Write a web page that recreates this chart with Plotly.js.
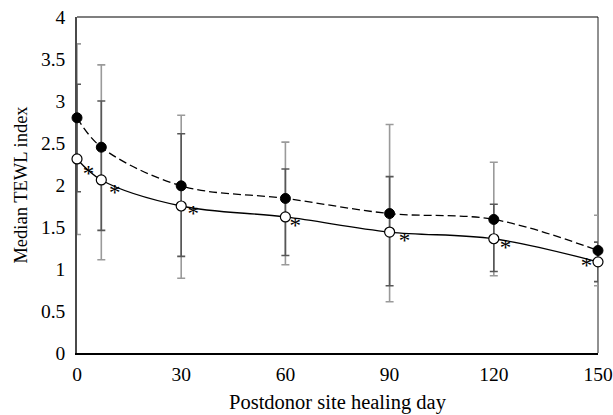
<!DOCTYPE html>
<html>
<head>
<meta charset="utf-8">
<script src="https://cdn.plot.ly/plotly-3.0.1.min.js"></script>
<style>html,body{margin:0;padding:0;background:#fff;}#chart{width:613px;height:415px;}</style>
</head>
<body>
<div id="chart"></div>
<script>
// Healing days
const days = [0, 7, 30, 60, 90, 120, 150];
// Median TEWL index, filled markers (dashed line)
const filledMedian = [2.80, 2.45, 1.99, 1.84, 1.66, 1.59, 1.22];
// Median TEWL index, open markers (solid line)
const openMedian = [2.31, 2.06, 1.75, 1.62, 1.44, 1.36, 1.085];
// Error-bar extents, light grey bars (filled series)
const filledUpper = [3.68, 3.43, 2.83, 2.51, 2.72, 2.27, 1.64];
const filledLower = [1.41, 1.11, 0.89, 1.05, 0.61, 0.92, 0.80];
// Error-bar extents, dark grey bars (open series)
const openUpper = [3.20, 3.00, 2.61, 2.19, 2.10, 1.77, 1.32];
const openLower = [1.92, 1.46, 1.15, 1.16, 0.80, 0.97, 0.85];
// Significance marks placed beside the open points
const starDays = [3.3, 10.9, 33.5, 62.8, 94.3, 123.4, 146.7];
const starValues = [2.12, 1.89, 1.64, 1.50, 1.32, 1.23, 1.02];
// Axis ticks
const xTicks = [0, 30, 60, 90, 120, 150];
const yTicks = [0, 0.5, 1, 1.5, 2, 2.5, 3, 3.5, 4];

const diff = (a, b) => a.map((v, i) => v - b[i]);
const font = "Liberation Serif, Times New Roman, serif";

const traces = [
  {
    x: days, y: filledMedian, type: 'scatter', mode: 'markers',
    marker: {size: 1, color: 'rgba(0,0,0,0)'},
    error_y: {type: 'data', symmetric: false,
      array: diff(filledUpper, filledMedian), arrayminus: diff(filledMedian, filledLower),
      color: '#9a9a9a', thickness: 1.6, width: 4},
    hoverinfo: 'skip', showlegend: false, cliponaxis: false
  },
  {
    x: days, y: openMedian, type: 'scatter', mode: 'markers',
    marker: {size: 1, color: 'rgba(0,0,0,0)'},
    error_y: {type: 'data', symmetric: false,
      array: diff(openUpper, openMedian), arrayminus: diff(openMedian, openLower),
      color: '#575757', thickness: 1.6, width: 4},
    hoverinfo: 'skip', showlegend: false, cliponaxis: false
  },
  {
    x: days, y: filledMedian, type: 'scatter', mode: 'lines+markers',
    line: {color: '#000', width: 1.3, dash: '8px,4px', shape: 'spline', smoothing: 1},
    marker: {symbol: 'circle', size: 10, color: '#000', line: {color: '#000', width: 1}},
    showlegend: false, cliponaxis: false
  },
  {
    x: days, y: openMedian, type: 'scatter', mode: 'lines+markers',
    line: {color: '#000', width: 1.3, shape: 'spline', smoothing: 1},
    marker: {symbol: 'circle', size: 10, color: '#fff', line: {color: '#000', width: 1.2}},
    showlegend: false, cliponaxis: false
  },
  {
    x: starDays, y: starValues, type: 'scatter', mode: 'text',
    text: starDays.map(() => '*'), textposition: 'middle center',
    textfont: {family: font, size: 23, color: '#000'},
    hoverinfo: 'skip', showlegend: false, cliponaxis: false
  }
];

const layout = {
  width: 613, height: 415,
  margin: {l: 77, r: 15, t: 17, b: 62},
  paper_bgcolor: '#fff', plot_bgcolor: '#fff',
  font: {family: font, size: 19, color: '#000'},
  xaxis: {
    range: [0, 150], tickvals: xTicks, ticktext: xTicks.map(String),
    showgrid: false, zeroline: false, showline: true, linecolor: '#000', linewidth: 2,
    ticks: '', ticklen: 0, layer: 'below traces', ticklabelstandoff: 3,
    title: {text: 'Postdonor site healing day', font: {family: font, size: 20.5, color: '#000'}, standoff: 10},
    tickfont: {family: font, size: 19.5, color: '#000'}, fixedrange: true
  },
  yaxis: {
    range: [0, 4], tickvals: yTicks, ticktext: yTicks.map(String),
    showgrid: false, zeroline: false, showline: true, linecolor: '#4a4a4a', linewidth: 1.8,
    ticks: '', layer: 'below traces', ticklabelstandoff: 6,
    title: {text: 'Median TEWL index', font: {family: font, size: 18.5, color: '#000'}, standoff: 8},
    tickfont: {family: font, size: 19.5, color: '#000'}, fixedrange: true
  },
  shapes: [
    {type: 'line', xref: 'paper', yref: 'paper', x0: 0, x1: 1, y0: 1, y1: 1, line: {color: '#000', width: 1.2}},
    {type: 'line', xref: 'paper', yref: 'paper', x0: 1, x1: 1, y0: 0, y1: 1, line: {color: '#222', width: 1}, layer: 'below'}
  ]
};

Plotly.newPlot('chart', traces, layout, {staticPlot: true, displayModeBar: false});
</script>
</body>
</html>
